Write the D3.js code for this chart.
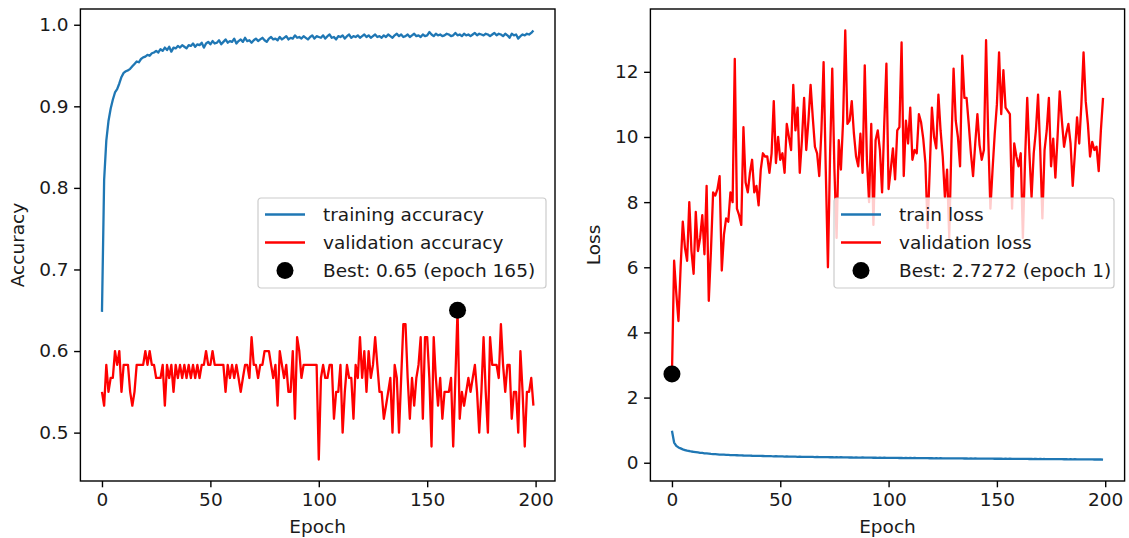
<!DOCTYPE html>
<meta charset="utf-8">
<style>
body { margin: 0; background: #fff; }
text { font-family: 'DejaVu Sans', sans-serif; fill: #1a1a1a; }
.axis .tick line { stroke: #000; stroke-width: 1.4px; }
.axis text { font-size: 18.5px; font-family: 'DejaVu Sans', sans-serif; fill: #1a1a1a; }
</style>
<body>
<svg width="1129" height="538"></svg>
<script src="https://cdn.jsdelivr.net/npm/d3@7"></script>
<script>

// ---- data ----
var trainAcc = [
  0.648, 0.81, 0.858, 0.882, 0.897, 0.908, 0.917, 0.921, 0.928, 0.936,
  0.941, 0.943, 0.944, 0.946, 0.949, 0.952, 0.955, 0.954, 0.958, 0.960,
  0.961, 0.963, 0.962, 0.965, 0.966, 0.968, 0.966, 0.970, 0.968, 0.972,
  0.969, 0.973, 0.967, 0.972, 0.971, 0.974, 0.972, 0.975, 0.973, 0.971,
  0.975, 0.974, 0.977, 0.973, 0.976, 0.975, 0.978, 0.972, 0.977, 0.979,
  0.976, 0.980, 0.977, 0.978, 0.981, 0.976, 0.979, 0.982, 0.978, 0.980,
  0.979, 0.983, 0.977, 0.980, 0.982, 0.979, 0.984, 0.980, 0.981, 0.978,
  0.981, 0.983, 0.980, 0.982, 0.984, 0.981, 0.979, 0.983, 0.985, 0.982,
  0.983, 0.981, 0.985, 0.982, 0.984, 0.986, 0.982, 0.984, 0.983, 0.987,
  0.984, 0.985, 0.983, 0.986, 0.984, 0.982, 0.985, 0.987, 0.983, 0.986,
  0.985, 0.984, 0.987, 0.983, 0.986, 0.988, 0.984, 0.985, 0.982, 0.986,
  0.985, 0.987, 0.983, 0.986, 0.988, 0.984, 0.986, 0.985, 0.987, 0.984,
  0.986, 0.988, 0.985, 0.987, 0.984, 0.986, 0.988, 0.985, 0.986, 0.984,
  0.987, 0.985, 0.988, 0.986, 0.984, 0.987, 0.989, 0.986, 0.988, 0.985,
  0.986, 0.988, 0.985, 0.987, 0.989, 0.986, 0.987, 0.985, 0.988, 0.986,
  0.987, 0.991, 0.988, 0.986, 0.989, 0.987, 0.988, 0.986, 0.987, 0.989,
  0.988, 0.986, 0.987, 0.990, 0.987, 0.988, 0.986, 0.989, 0.987, 0.988,
  0.986, 0.988, 0.990, 0.987, 0.989, 0.988, 0.987, 0.989, 0.988, 0.986,
  0.988, 0.990, 0.987, 0.989, 0.988, 0.986, 0.989, 0.987, 0.984, 0.989,
  0.987, 0.988, 0.983, 0.986, 0.988, 0.987, 0.989, 0.988, 0.990, 0.993
];

var valAcc = [
  0.55, 0.533, 0.583, 0.55, 0.567, 0.567, 0.6, 0.583, 0.6, 0.55,
  0.583, 0.583, 0.583, 0.55, 0.533, 0.55, 0.583, 0.583, 0.583, 0.583,
  0.6, 0.583, 0.6, 0.583, 0.583, 0.567, 0.567, 0.567, 0.583, 0.533,
  0.583, 0.567, 0.583, 0.55, 0.583, 0.567, 0.583, 0.567, 0.583, 0.567,
  0.583, 0.567, 0.583, 0.567, 0.583, 0.567, 0.583, 0.583, 0.6, 0.583,
  0.583, 0.6, 0.583, 0.583, 0.583, 0.583, 0.583, 0.55, 0.583, 0.567,
  0.583, 0.567, 0.583, 0.567, 0.55, 0.567, 0.583, 0.583, 0.567, 0.617,
  0.583, 0.583, 0.567, 0.583, 0.583, 0.6, 0.6, 0.6, 0.583, 0.567,
  0.583, 0.533, 0.6, 0.583, 0.567, 0.583, 0.55, 0.55, 0.6, 0.517,
  0.617, 0.6, 0.567, 0.583, 0.583, 0.583, 0.583, 0.583, 0.583, 0.583,
  0.467, 0.567, 0.583, 0.567, 0.567, 0.583, 0.583, 0.517, 0.55, 0.55,
  0.583, 0.5, 0.55, 0.583, 0.567, 0.567, 0.517, 0.583, 0.567, 0.617,
  0.567, 0.6, 0.55, 0.6, 0.567, 0.583, 0.617, 0.583, 0.55, 0.55,
  0.517, 0.533, 0.55, 0.567, 0.5, 0.583, 0.567, 0.5, 0.567, 0.633,
  0.633, 0.567, 0.517, 0.567, 0.533, 0.567, 0.583, 0.617, 0.517, 0.617,
  0.617, 0.567, 0.483, 0.617, 0.567, 0.533, 0.567, 0.517, 0.55, 0.55,
  0.55, 0.567, 0.483, 0.567, 0.65, 0.517, 0.55, 0.533, 0.55, 0.567,
  0.55, 0.567, 0.583, 0.55, 0.5, 0.55, 0.617, 0.55, 0.5, 0.617,
  0.583, 0.583, 0.583, 0.567, 0.633, 0.583, 0.55, 0.583, 0.583, 0.517,
  0.55, 0.55, 0.5, 0.6, 0.55, 0.483, 0.55, 0.55, 0.567, 0.533
];

var trainLoss = [
  0.98, 0.62, 0.52, 0.47, 0.44, 0.41, 0.39, 0.37, 0.36, 0.345,
  0.335, 0.325, 0.315, 0.305, 0.30, 0.29, 0.285, 0.28, 0.272, 0.266,
  0.262, 0.258, 0.252, 0.25, 0.246, 0.243, 0.24, 0.236, 0.235, 0.232,
  0.23, 0.226, 0.228, 0.222, 0.22, 0.218, 0.219, 0.214, 0.212, 0.213,
  0.21, 0.208, 0.207, 0.205, 0.203, 0.204, 0.2, 0.198, 0.199, 0.196,
  0.195, 0.194, 0.19, 0.193, 0.189, 0.188, 0.186, 0.187, 0.183, 0.185,
  0.182, 0.18, 0.183, 0.178, 0.177, 0.179, 0.175, 0.176, 0.172, 0.175,
  0.173, 0.17, 0.172, 0.169, 0.171, 0.167, 0.168, 0.165, 0.168, 0.164,
  0.163, 0.166, 0.161, 0.163, 0.16, 0.162, 0.159, 0.158, 0.161, 0.156,
  0.158, 0.155, 0.157, 0.153, 0.156, 0.152, 0.154, 0.151, 0.153, 0.149,
  0.152, 0.148, 0.15, 0.147, 0.149, 0.146, 0.148, 0.144, 0.147, 0.143,
  0.145, 0.142, 0.146, 0.141, 0.143, 0.14, 0.142, 0.139, 0.141, 0.138,
  0.14, 0.137, 0.139, 0.136, 0.138, 0.135, 0.137, 0.134, 0.136, 0.133,
  0.135, 0.132, 0.134, 0.131, 0.133, 0.13, 0.132, 0.129, 0.131, 0.128,
  0.13, 0.127, 0.129, 0.126, 0.128, 0.125, 0.127, 0.124, 0.126, 0.123,
  0.125, 0.122, 0.124, 0.121, 0.123, 0.12, 0.122, 0.119, 0.121, 0.118,
  0.12, 0.117, 0.119, 0.116, 0.118, 0.115, 0.117, 0.114, 0.116, 0.113,
  0.115, 0.112, 0.114, 0.111, 0.113, 0.11, 0.112, 0.109, 0.111, 0.108,
  0.11, 0.107, 0.109, 0.106, 0.108, 0.105, 0.107, 0.104, 0.106, 0.103,
  0.105, 0.102, 0.104, 0.101, 0.103, 0.1, 0.102, 0.099, 0.101, 0.098
];

var valLoss = [
  2.727, 6.2, 5.2, 4.35, 6.0, 7.4, 6.6, 6.2, 8.0, 6.5,
  5.8, 7.7, 6.5, 6.9, 7.6, 6.4, 8.5, 4.97, 6.5, 8.3,
  8.2, 8.4, 8.8, 5.9, 7.0, 7.5, 7.4, 8.3, 8.0, 12.4,
  7.8, 7.6, 7.3, 10.3, 8.6, 8.3, 8.9, 9.3, 8.3, 8.5,
  7.9, 9.0, 9.5, 9.4, 9.4, 8.9, 9.5, 11.1, 9.2, 10.0,
  9.3, 9.5, 8.9, 10.4, 10.0, 9.6, 11.6, 10.2, 10.9, 8.9,
  9.9, 11.2, 9.6, 10.5, 11.6, 10.6, 9.7, 9.5, 8.8, 10.2,
  12.3, 9.0, 6.0, 9.5, 12.1, 9.0, 6.9, 9.9, 9.0, 10.5,
  13.27, 10.4, 10.5, 11.1, 10.1, 9.4, 9.1, 10.1, 8.9, 12.2,
  9.3, 8.0, 10.4, 7.3, 9.9, 10.2, 9.6, 8.3, 10.4, 12.25,
  8.4, 9.0, 9.65, 8.7, 10.2, 10.3, 12.9, 8.8, 10.5, 9.8,
  10.9, 9.3, 9.6, 9.5, 10.7, 10.45, 9.95, 9.2, 7.2, 9.0,
  10.9, 10.0, 9.65, 11.3, 10.2, 9.4, 8.15, 9.0, 6.9, 9.75,
  12.1, 10.5, 10.0, 9.1, 12.5, 11.2, 11.2, 10.4, 9.5, 8.8,
  9.8, 10.7, 9.75, 9.3, 9.6, 12.97, 10.0, 7.8, 9.0, 10.1,
  11.0, 12.6, 10.7, 12.05, 10.9, 10.8, 10.7, 7.8, 9.8, 9.4,
  9.1, 9.5, 6.9, 9.3, 11.2, 9.5, 8.15, 9.5, 10.2, 11.3,
  9.6, 7.5, 9.6, 10.2, 11.2, 9.1, 9.95, 8.75, 10.0, 11.4,
  10.5, 9.7, 10.1, 10.4, 9.8, 8.5, 9.5, 10.6, 9.8, 11.0,
  12.6, 11.1, 10.4, 9.4, 9.85, 9.6, 9.7, 8.95, 10.2, 11.2
];

var accTicks = [0.5, 0.6, 0.7, 0.8, 0.9, 1.0];
var lossTicks = [0, 2, 4, 6, 8, 10, 12];
var epochTicks = [0, 50, 100, 150, 200];
var bestAcc = {epoch: 164, value: 0.65, label: "Best: 0.65 (epoch 165)"};
var bestLoss = {epoch: 0, value: 2.7272, label: "Best: 2.7272 (epoch 1)"};

// ---- drawing ----
var svg = d3.select("svg");
var blue = "#1f77b4", red = "#ff0000";
var lw = 2.3, tick = 6.3, fs = "18.5px";

function panel(o) {
  var x = d3.scaleLinear().domain([-9.95, 208.95]).range([o.left, o.right]);
  var all = o.series[0].data.concat(o.series[1].data);
  var lo = d3.min(all), hi = d3.max(all), pad = (hi - lo) * 0.05;
  var y = d3.scaleLinear().domain([lo - pad, hi + pad]).range([o.bottom, o.top]);

  var g = svg.append("g");

  var line = d3.line()
      .x(function(d, i) { return x(i); })
      .y(function(d) { return y(d); });

  o.series.forEach(function(s) {
    g.append("path")
        .datum(s.data)
        .attr("fill", "none")
        .attr("stroke", s.color)
        .attr("stroke-width", lw)
        .attr("stroke-linejoin", "round")
        .attr("d", line);
  });

  g.append("circle")
      .attr("cx", x(o.best.epoch))
      .attr("cy", y(o.best.value))
      .attr("r", 8.5)
      .attr("fill", "#000");

  g.append("g")
      .attr("class", "axis")
      .attr("transform", "translate(0," + o.bottom + ")")
      .call(d3.axisBottom(x).tickValues(epochTicks).tickSize(tick).tickSizeOuter(0).tickPadding(5.5).tickFormat(d3.format("d")))
      .call(function(a) { a.select(".domain").remove(); });

  g.append("g")
      .attr("class", "axis")
      .attr("transform", "translate(" + o.left + ",0)")
      .call(d3.axisLeft(y).tickValues(o.ticks).tickSize(tick).tickSizeOuter(0).tickPadding(5.5).tickFormat(o.fmt))
      .call(function(a) { a.select(".domain").remove(); });

  g.append("rect")
      .attr("x", o.left).attr("y", o.top)
      .attr("width", o.right - o.left).attr("height", o.bottom - o.top)
      .attr("fill", "none").attr("stroke", "#000").attr("stroke-width", 1.4);

  g.append("text")
      .attr("x", (o.left + o.right) / 2).attr("y", 533)
      .attr("text-anchor", "middle").style("font-size", fs)
      .text("Epoch");

  g.append("text")
      .attr("transform", "translate(" + o.ylabelX + "," + (o.top + o.bottom) / 2 + ") rotate(-90)")
      .attr("text-anchor", "middle").style("font-size", fs)
      .text(o.ylabel);

  // legend
  var lg = g.append("g").attr("transform", "translate(" + o.legend[0] + "," + o.legend[1] + ")");
  lg.append("rect")
      .attr("x", 0).attr("y", 0).attr("width", o.legend[2]).attr("height", 90)
      .attr("rx", 3)
      .attr("fill", "#fff").attr("fill-opacity", 0.8)
      .attr("stroke", "#cccccc").attr("stroke-width", 1.2);
  var rows = [
    {kind: "line", color: o.series[0].color, label: o.series[0].label},
    {kind: "line", color: o.series[1].color, label: o.series[1].label},
    {kind: "dot", label: o.best.label}
  ];
  rows.forEach(function(r, i) {
    var cy = 16.5 + i * 28;
    if (r.kind === "line") {
      lg.append("line").attr("x1", 7).attr("x2", 47).attr("y1", cy).attr("y2", cy)
          .attr("stroke", r.color).attr("stroke-width", lw);
    } else {
      lg.append("circle").attr("cx", 27).attr("cy", cy).attr("r", 8.5).attr("fill", "#000");
    }
    lg.append("text").attr("x", 65).attr("y", cy).attr("dy", "0.35em")
        .style("font-size", fs).text(r.label);
  });
}

panel({
  left: 80.4, right: 555, top: 9, bottom: 481,
  series: [
    {data: trainAcc, color: blue, label: "training accuracy"},
    {data: valAcc, color: red, label: "validation accuracy"}
  ],
  best: bestAcc,
  ticks: accTicks, fmt: d3.format(".1f"),
  ylabel: "Accuracy", ylabelX: 24,
  legend: [258, 198, 288]
});

panel({
  left: 650.4, right: 1124.6, top: 9, bottom: 481,
  series: [
    {data: trainLoss, color: blue, label: "train loss"},
    {data: valLoss, color: red, label: "validation loss"}
  ],
  best: bestLoss,
  ticks: lossTicks, fmt: d3.format("d"),
  ylabel: "Loss", ylabelX: 600,
  legend: [834, 198, 280]
});

</script>
</body>
